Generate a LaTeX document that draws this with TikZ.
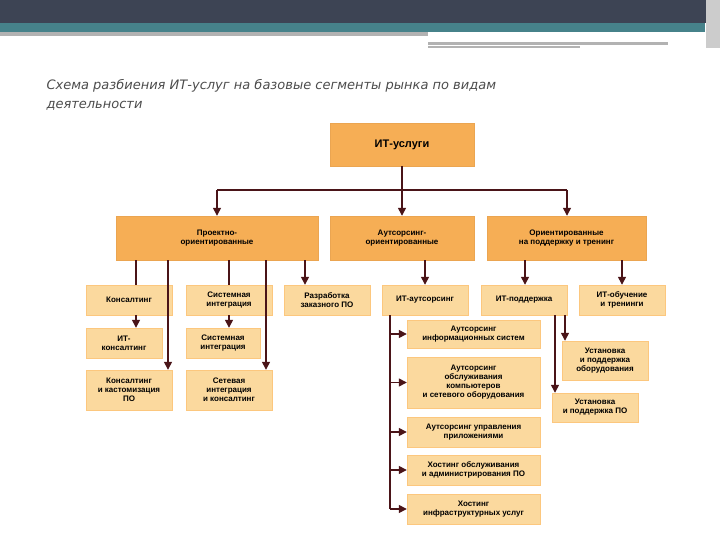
\documentclass[tikz,border=0pt]{standalone}
\usepackage{fontspec}
\setmainfont{Liberation Sans}
\newfontfamily\titlefont{DejaVu Sans}
\usetikzlibrary{arrows.meta}
\definecolor{topbar}{HTML}{3D4454}
\definecolor{tealbar}{HTML}{46828A}
\definecolor{darkfill}{HTML}{F6AE55}
\definecolor{lightfill}{HTML}{FBD99E}
\definecolor{arrowcol}{HTML}{4A1418}
\tikzset{
  box/.style={draw=lightfill!80!orange, fill=lightfill, align=center, inner sep=1pt,
    font=\fontsize{8}{9}\selectfont\bfseries},
  bigbox/.style={box, draw=darkfill!80!brown, fill=darkfill},
  link/.style={draw=arrowcol, line width=1.4pt},
  arr/.style={link, -{Triangle[length=8pt,width=8pt]}}
}
\begin{document}
\begin{tikzpicture}[x=1pt,y=-1pt]
	\useasboundingbox (0,0) rectangle (720,540);
	% Header bars
	\fill[topbar] (0,0) rectangle (720,23);
	\fill[tealbar] (0,23) rectangle (705,32);
	\fill[black!30] (0,32) rectangle (428,36);
	\fill[black!30] (428,42) rectangle (668,45);
	\fill[black!30] (428,46) rectangle (580,48);
	\fill[black!20] (706,0) rectangle (720,48);
	% Title
	\node[anchor=west, text=black!70, align=left, font=\titlefont\fontsize{13}{19}\selectfont\itshape] (title) at (43,95)
	  {Схема разбиения ИТ-услуг на базовые сегменты рынка по видам\\деятельности};
	% Level 1 and 2
	\node[bigbox, minimum width=144pt, minimum height=43pt, font=\fontsize{11}{13}\selectfont\bfseries] (it) at (402,144.5) {ИТ-услуги};
	\node[bigbox, minimum width=202pt, minimum height=44pt] (proj) at (217,238) {Проектно-\\ориентированные};
	\node[bigbox, minimum width=144pt, minimum height=44pt] (outs) at (402,238) {Аутсорсинг-\\ориентированные};
	\node[bigbox, minimum width=159pt, minimum height=44pt] (supp) at (566.5,238) {Ориентированные\\на поддержку и тренинг};
	% Level 3
	\node[box, minimum width=86pt, minimum height=30pt] (kons) at (129,300) {Консалтинг};
	\node[box, minimum width=86pt, minimum height=30pt] (sysint) at (229,300) {Системная\\интеграция};
	\node[box, minimum width=86pt, minimum height=30pt] (razr) at (327,300) {Разработка\\заказного ПО};
	\node[box, minimum width=86pt, minimum height=30pt] (itout) at (425,300) {ИТ-аутсорсинг};
	\node[box, minimum width=86pt, minimum height=30pt] (itsup) at (524,300) {ИТ-поддержка};
	\node[box, minimum width=86pt, minimum height=30pt] (itedu) at (622,300) {ИТ-обучение\\и тренинги};
	% Level 4, left
	\node[box, minimum width=76pt, minimum height=30pt] (itkons) at (124,343) {ИТ-\\консалтинг};
	\node[box, minimum width=74pt, minimum height=30pt] (sysint2) at (223,343) {Системная\\интеграция};
	\node[box, minimum width=86pt, minimum height=40pt] (kastom) at (129,390) {Консалтинг\\и кастомизация\\ПО};
	\node[box, minimum width=86pt, minimum height=40pt] (setev) at (229,390) {Сетевая\\интеграция\\и консалтинг};
	% Level 4, outsourcing
	\node[box, minimum width=133pt, minimum height=28pt] (o1) at (473.5,334) {Аутсорсинг\\информационных систем};
	\node[box, minimum width=133pt, minimum height=51pt] (o2) at (473.5,382.5) {Аутсорсинг\\обслуживания\\компьютеров\\и сетевого оборудования};
	\node[box, minimum width=133pt, minimum height=30pt] (o3) at (473.5,432) {Аутсорсинг управления\\приложениями};
	\node[box, minimum width=133pt, minimum height=30pt] (o4) at (473.5,470) {Хостинг обслуживания\\и администрирования ПО};
	\node[box, minimum width=133pt, minimum height=30pt] (o5) at (473.5,509) {Хостинг\\инфраструктурных услуг};
	% Level 4, support
	\node[box, minimum width=86pt, minimum height=39pt] (ustob) at (605,360.5) {Установка\\и поддержка\\оборудования};
	\node[box, minimum width=86pt, minimum height=29pt] (ustpo) at (595,407.5) {Установка\\и поддержка ПО};
	% Connectors from the top
	\coordinate (hl) at (217,190);
	\coordinate (hr) at (567,190);
	\draw[link] (it.south) -- (402,190);
	\draw[link] (hl) -- (hr);
	\draw[arr] (hl) -- (proj.north -| hl);
	\draw[arr] (402,190) -- (outs.north);
	\draw[arr] (hr) -- (supp.north -| hr);
	% Project branch
	\draw[link] (proj.south -| 136,0) -- (kons.north -| 136,0);
	\draw[arr] (kons.south -| 136,0) -- (itkons.north -| 136,0);
	\draw[arr] (proj.south -| 168,0) -- (kastom.north -| 168,0);
	\draw[link] (proj.south -| 229,0) -- (sysint.north -| 229,0);
	\draw[arr] (sysint.south -| 229,0) -- (sysint2.north -| 229,0);
	\draw[arr] (proj.south -| 266,0) -- (setev.north -| 266,0);
	\draw[arr] (proj.south -| 305,0) -- (razr.north -| 305,0);
	% Outsourcing and support branches
	\draw[arr] (outs.south -| itout) -- (itout.north);
	\draw[arr] (supp.south -| 525,0) -- (itsup.north -| 525,0);
	\draw[arr] (supp.south -| itedu) -- (itedu.north);
	\draw[link] (itout.south -| 390,0) -- (390,509);
	\foreach \n in {o1,o2,o3,o4,o5}
	  \draw[arr] (\n.west -| 390,0) -- (\n.west);
	\draw[arr] (itsup.south -| 555,0) -- (ustpo.north -| 555,0);
	\draw[arr] (itsup.south -| 565,0) -- (ustob.north -| 565,0);
\end{tikzpicture}
\end{document}
